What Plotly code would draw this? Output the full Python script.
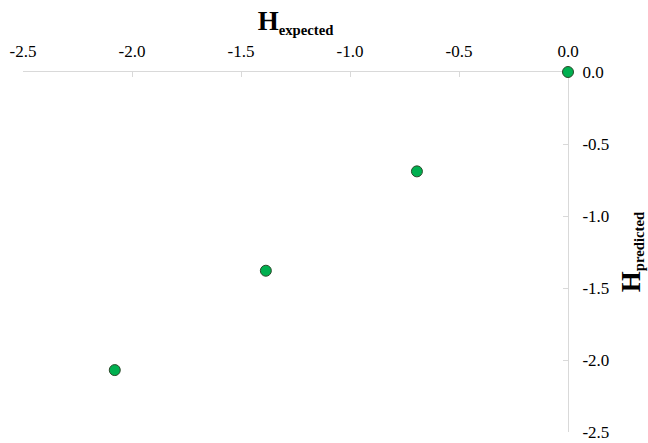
import plotly.graph_objects as go

h_expected = [0.0, -0.693, -1.386, -2.079]
h_predicted = [0.0, -0.69, -1.38, -2.07]
tick_vals = [-2.5, -2.0, -1.5, -1.0, -0.5, 0.0]
tick_text = ["-2.5", "-2.0", "-1.5", "-1.0", "-0.5", "0.0"]

FONT = "Liberation Serif"
AX = "#d9d9d9"

fig = go.Figure()
fig.add_trace(go.Scatter(
    x=h_expected, y=h_predicted, mode="markers",
    marker=dict(size=11, color="#00b050", line=dict(color="#2b4a2b", width=1)),
    cliponaxis=False, showlegend=False,
))

fig.update_layout(
    width=648, height=443,
    margin=dict(l=23, r=80, t=72, b=11),
    paper_bgcolor="white", plot_bgcolor="white",
    font=dict(family=FONT, size=17, color="#000000"),
    xaxis=dict(
        side="top", range=[-2.5, 0.0], tickvals=tick_vals, ticktext=tick_text,
        showline=True, linecolor=AX, linewidth=1, ticks="inside", ticklen=5, tickcolor=AX,
        showgrid=False, zeroline=False, ticklabelstandoff=7, layer="below traces",
        automargin=False,
        title=dict(text="<b><span style='font-size:27px'>H</span><sub>expected</sub></b>",
                   font=dict(family=FONT, size=21), standoff=5),
    ),
    yaxis=dict(
        side="right", range=[-2.5, 0.0], tickvals=tick_vals, ticktext=tick_text,
        showline=True, linecolor=AX, linewidth=1, ticks="inside", ticklen=5, tickcolor=AX,
        showgrid=False, zeroline=False, ticklabelstandoff=10, layer="below traces",
        automargin=False,
        title=dict(text="<b><span style='font-size:27px'>H</span><sub>predicted</sub></b>",
                   font=dict(family=FONT, size=21), standoff=16),
    ),
)

fig.write_html("out.html")
